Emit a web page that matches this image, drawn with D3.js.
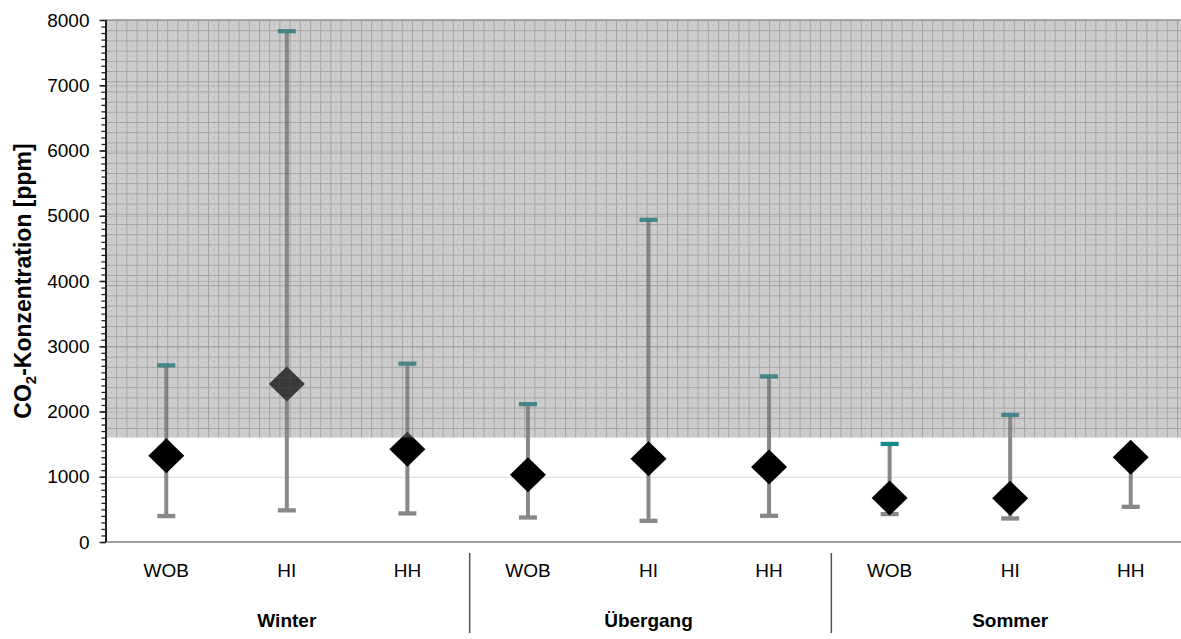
<!DOCTYPE html>
<html>
<head>
<meta charset="utf-8">
<script src="https://cdn.jsdelivr.net/npm/d3@7"></script>
<style>
  html, body { margin: 0; padding: 0; background: #fff; }
  svg { display: block; font-family: "Liberation Sans", Arial, sans-serif; }
</style>
</head>
<body>
<svg id="chart" width="1181" height="639"></svg>
<script>
// data
const seasons = ["Winter", "Übergang", "Sommer"];
const sites = ["WOB", "HI", "HH", "WOB", "HI", "HH", "WOB", "HI", "HH"];
const meanValues = [1320, 2420, 1420, 1030, 1275, 1150, 675, 670, 1300];
const maxValues = [2710, 7830, 2735, 2115, 4940, 2540, 1505, 1950, 1300];
const minValues = [400, 487, 440, 378, 327, 404, 430, 363, 541];
const yTicks = [0, 1000, 2000, 3000, 4000, 5000, 6000, 7000, 8000];
const yMinorTicks = d3.range(0, 8001, 100);
const limitValue = 1600; // shaded zone starts here

const margin = { top: 20, left: 106, bottom: 542 };
const plotRight = 1191; // plot runs past the window edge

const svg = d3.select("#chart");

const xScale = d3
  .scaleBand()
  .domain(d3.range(sites.length))
  .range([margin.left, plotRight]);

const yScale = d3.scaleLinear().domain([0, 8000]).range([margin.bottom, margin.top]);

const cx = (i) => xScale(i) + xScale.bandwidth() / 2;

// pattern for the shaded zone
const defs = svg.append("defs");
const pat = defs
  .append("pattern")
  .attr("id", "hatch")
  .attr("patternUnits", "userSpaceOnUse")
  .attr("x", margin.left)
  .attr("y", margin.top)
  .attr("width", 10.2)
  .attr("height", 10.2);
pat.append("rect").attr("width", 10.2).attr("height", 10.2).attr("fill", "#888").attr("fill-opacity", 0.42);
pat.append("rect").attr("x", 0).attr("y", 0).attr("width", 10.2).attr("height", 1).attr("fill", "#555").attr("fill-opacity", 0.35);
pat.append("rect").attr("x", 0).attr("y", 1).attr("width", 1).attr("height", 9.2).attr("fill", "#555").attr("fill-opacity", 0.35);
pat.append("rect").attr("x", 5).attr("y", 5).attr("width", 1).attr("height", 1).attr("fill", "#555").attr("fill-opacity", 0.3);

// horizontal gridlines
svg
  .append("g")
  .selectAll("line")
  .data(yTicks.filter((d) => d > 0 && d < 8000))
  .join("line")
  .attr("x1", margin.left)
  .attr("x2", plotRight)
  .attr("y1", (d) => yScale(d) + 0.5)
  .attr("y2", (d) => yScale(d) + 0.5)
  .attr("stroke", "#d9d9d9")
  .attr("stroke-width", 1.2);

// whiskers
const marks = svg.append("g");
marks
  .selectAll(".whisker")
  .data(sites)
  .join("line")
  .attr("class", "whisker")
  .attr("x1", (d, i) => cx(i))
  .attr("x2", (d, i) => cx(i))
  .attr("y1", (d, i) => yScale(minValues[i]))
  .attr("y2", (d, i) => yScale(maxValues[i]))
  .attr("stroke", "#888")
  .attr("stroke-width", 4);

// lower caps (grey)
marks
  .selectAll(".capLow")
  .data(sites)
  .join("rect")
  .attr("class", "capLow")
  .attr("x", (d, i) => cx(i) - 9)
  .attr("y", (d, i) => yScale(minValues[i]) - 2)
  .attr("width", 18)
  .attr("height", 4.3)
  .attr("fill", "#888");

// upper caps (teal)
marks
  .selectAll(".capHigh")
  .data(sites)
  .join("rect")
  .attr("class", "capHigh")
  .attr("x", (d, i) => cx(i) - 9)
  .attr("y", (d, i) => yScale(maxValues[i]) - 2)
  .attr("width", 18)
  .attr("height", 4.3)
  .attr("fill", "#16898b");

// mean diamonds
marks
  .selectAll(".diamond")
  .data(sites)
  .join("path")
  .attr("class", "diamond")
  .attr("transform", (d, i) => `translate(${cx(i)},${yScale(meanValues[i])})`)
  .attr("d", "M0,-17.5L18,0L0,17.5L-18,0Z")
  .attr("fill", "#000");

// shaded zone on top of the marks
svg
  .append("rect")
  .attr("x", margin.left)
  .attr("y", margin.top)
  .attr("width", plotRight - margin.left)
  .attr("height", yScale(limitValue) - margin.top)
  .attr("fill", "url(#hatch)");

// plot border top and bottom
svg
  .append("line")
  .attr("x1", margin.left)
  .attr("x2", plotRight)
  .attr("y1", margin.top)
  .attr("y2", margin.top)
  .attr("stroke", "#999")
  .attr("stroke-width", 1.5);
svg
  .append("line")
  .attr("x1", margin.left)
  .attr("x2", plotRight)
  .attr("y1", margin.bottom)
  .attr("y2", margin.bottom)
  .attr("stroke", "#808080")
  .attr("stroke-width", 1.6);

// y axis: minor ticks, then major ticks with labels
svg
  .append("g")
  .attr("transform", `translate(${margin.left},0)`)
  .call(d3.axisLeft(yScale).tickValues(yMinorTicks).tickSize(4.5).tickFormat(""))
  .call((g) => g.select(".domain").remove())
  .call((g) => g.selectAll("line").attr("stroke", "#222").attr("stroke-width", 1.3));

const yAxis = svg
  .append("g")
  .attr("transform", `translate(${margin.left},0)`)
  .call(d3.axisLeft(yScale).tickValues(yTicks).tickSize(6.5).tickPadding(10).tickFormat(d3.format("d")));
yAxis.select(".domain").attr("stroke", "#222").attr("stroke-width", 2).attr("d", `M0,${margin.top}V${margin.bottom}`);
yAxis.selectAll("line").attr("stroke", "#222").attr("stroke-width", 1.5);
yAxis
  .selectAll("text")
  .attr("font-size", "19px")
  .attr("font-family", "Liberation Sans, Arial, sans-serif")
  .attr("fill", "#000");

// y axis title
const yTitle = svg
  .append("text")
  .attr("transform", `translate(31,${(margin.top + margin.bottom) / 2}) rotate(-90)`)
  .attr("text-anchor", "middle")
  .attr("font-size", "23px")
  .attr("font-weight", "bold");
yTitle.append("tspan").text("CO");
yTitle.append("tspan").attr("font-size", "15px").attr("dy", "5").text("2");
yTitle.append("tspan").attr("dy", "-5").text("-Konzentration [ppm]");

// category labels
svg
  .append("g")
  .selectAll("text")
  .data(sites)
  .join("text")
  .attr("x", (d, i) => cx(i))
  .attr("y", 577)
  .attr("text-anchor", "middle")
  .attr("font-size", "19px")
  .text((d) => d);

// season labels
svg
  .append("g")
  .selectAll("text")
  .data(seasons)
  .join("text")
  .attr("x", (d, i) => cx(i * 3 + 1))
  .attr("y", 627)
  .attr("text-anchor", "middle")
  .attr("font-size", "19px")
  .attr("font-weight", "bold")
  .text((d) => d);

// separators between seasons
svg
  .append("g")
  .selectAll("line")
  .data([3, 6])
  .join("line")
  .attr("x1", (d) => xScale(d) + 2)
  .attr("x2", (d) => xScale(d) + 2)
  .attr("y1", 553)
  .attr("y2", 633)
  .attr("stroke", "#555")
  .attr("stroke-width", 1.5);
</script>
</body>
</html>
